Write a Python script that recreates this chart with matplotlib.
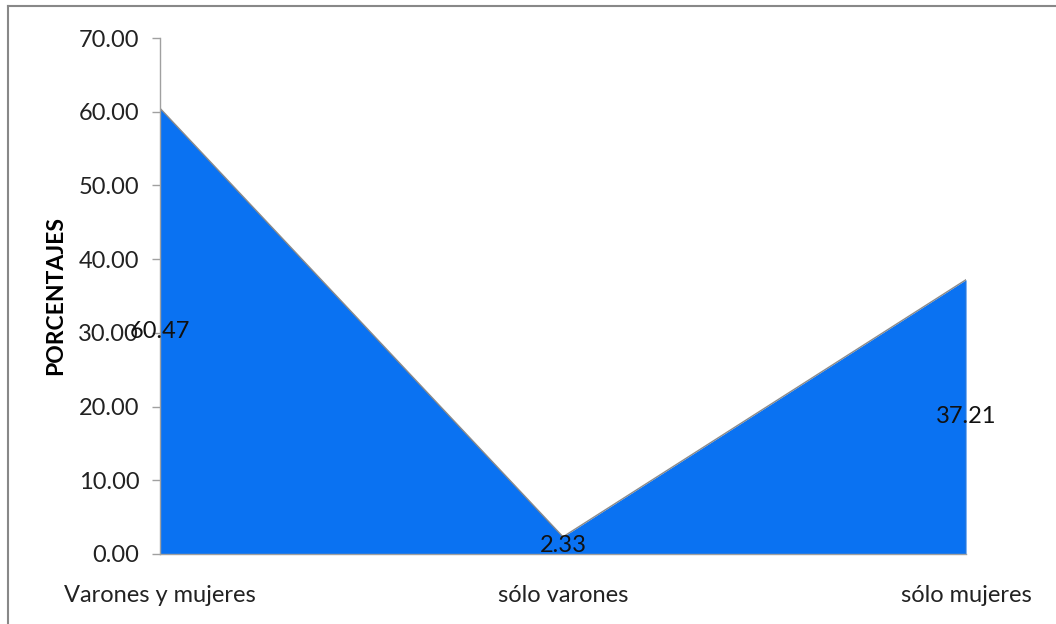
import numpy as np
import matplotlib
matplotlib.use("Agg")
import matplotlib.pyplot as plt
from matplotlib.lines import Line2D

categories = ["Varones y mujeres", "sólo varones", "sólo mujeres"]
values = [60.47, 2.33, 37.21]
yticks = [0, 10, 20, 30, 40, 50, 60, 70]

FILL = "#0a72f2"; EDGE = "#8a8a8a"; AX = "#a0a0a0"
plt.rcParams["font.family"] = ["Lato", "DejaVu Sans"]
FS = 17

fig = plt.figure(figsize=(10.56, 6.24), dpi=100)
ax = fig.add_axes([0.1515, 0.1122, 0.7633, 0.8269])
x = np.arange(len(values))
ax.fill_between(x, values, 0, color=FILL, lw=0, zorder=2)
ax.plot(x, values, color=EDGE, lw=1.0, zorder=3)
ax.plot([x[-1], x[-1]], [0, values[-1]], color=EDGE, lw=1.0, zorder=3)

# data labels at half height of each point
for xi, v in zip(x, values):
    ax.text(xi, v / 2, f"{v:.2f}", ha="center", va="center", fontsize=FS,
            color="#111111", zorder=5)

ax.set_xlim(x[0], x[-1]); ax.set_ylim(0, 70)
ax.set_yticks(yticks)
ax.set_yticklabels([f"{t:.2f}" for t in yticks], fontsize=FS, color="#222222")
ax.set_xticks(x)
ax.set_xticklabels(categories, fontsize=FS, color="#222222")
ax.tick_params(axis="x", length=0, pad=22)
ax.tick_params(axis="y", length=6, width=1, color=AX, pad=9)
for s in ("top", "right"):
    ax.spines[s].set_visible(False)
for s in ("left", "bottom"):
    ax.spines[s].set_color(AX); ax.spines[s].set_linewidth(1.0)
ax.spines["left"].set_zorder(4)
ax.set_ylabel("PORCENTAJES", fontsize=16.5, fontweight="bold")
ax.yaxis.set_label_coords(-0.116, 0.5)

# outer chart border (top and left visible)
fig.add_artist(Line2D([8 / 1056, 1.0], [1 - 6 / 624] * 2, color="#888888", lw=1.5))
fig.add_artist(Line2D([8 / 1056] * 2, [0.0, 1 - 6 / 624], color="#888888", lw=1.5))

fig.savefig("out.png", dpi=100)
